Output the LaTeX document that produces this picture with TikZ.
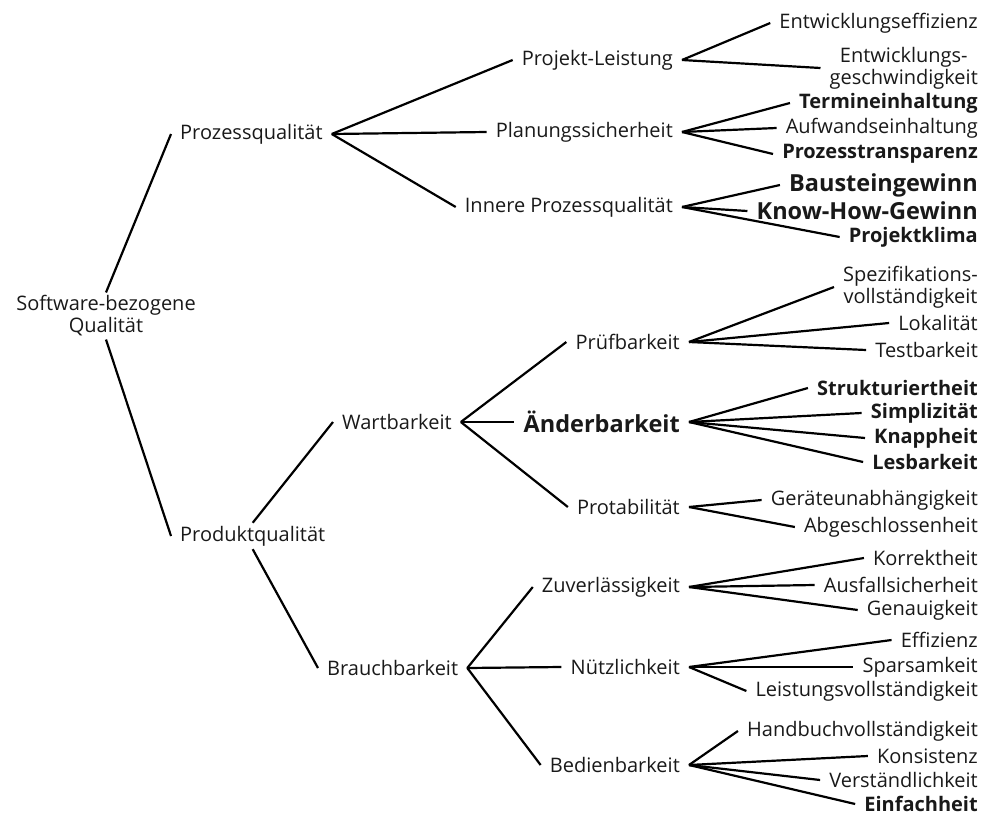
\documentclass[tikz,border=0pt]{standalone}
\usepackage{fontspec}
\setmainfont{Open Sans}
\usetikzlibrary{positioning}

\tikzset{
	lbl/.style={inner xsep=9pt, inner ysep=3pt, text=black!90, font=\fontsize{20}{22}\selectfont},
	mid/.style={lbl, anchor=east},
	leaf/.style={lbl, anchor=east, align=center},
	bleaf/.style={leaf, font=\fontsize{20}{22}\selectfont\bfseries},
	Bleaf/.style={leaf, font=\fontsize{23.5}{22}\selectfont\bfseries},
	edge/.style={line width=2.2pt, black}
}

\begin{document}
\begin{tikzpicture}[x=1pt, y=-1pt]

	\useasboundingbox (0,0) rectangle (989,817);

	\def\ma{682};
	\def\mb{689};
	\def\rx{987};

	% root and first level
	\node[lbl, align=center] (sq) at (106,316) {Software-bezogene\\Qualität};
	\node[lbl, anchor=west] (pz) at (171,134) {Prozessqualität};
	\node[lbl, anchor=west] (pd) at (171,536) {Produktqualität};
	\draw[edge] (sq.north) -- (pz.west);
	\draw[edge] (sq.south) -- (pd.west);

	\node[lbl, anchor=west] (wb) at (333,422) {Wartbarkeit};
	\node[lbl, anchor=west] (bb) at (318,668) {Brauchbarkeit};
	\draw[edge] (pd.north) -- (wb.west);
	\draw[edge] (pd.south) -- (bb.west);

	% second level
	\foreach \y/\name/\st/\txt in {60/pl/mid/Projekt-Leistung, 132/ps/mid/Planungssicherheit, 207/ip/mid/Innere Prozessqualität} {
		\node[\st] (\name) at (\ma,\y) {\txt};
		\draw[edge] (pz.east) -- (\name.west);
	}
	\foreach \y/\name/\st/\txt in {342/pf/mid/Prüfbarkeit, 422/ab/Bleaf/Änderbarkeit, 507/pt/mid/Protabilität} {
		\node[\st] (\name) at (\mb,\y) {\txt};
		\draw[edge] (wb.east) -- (\name.west);
	}
	\foreach \y/\name/\st/\txt in {587/zv/mid/Zuverlässigkeit, 667/nl/mid/Nützlichkeit, 765/bd/mid/Bedienbarkeit} {
		\node[\st] (\name) at (\mb,\y) {\txt};
		\draw[edge] (bb.east) -- (\name.west);
	}

	% leaves
	\foreach \y/\name/\st/\txt/\up in {
		23/ee/leaf/Entwicklungseffizienz/pl,
		68/eg/leaf/{Entwicklungs-\\geschwindigkeit}/pl,
		103/te/bleaf/Termineinhaltung/ps,
		128/ae/leaf/Aufwandseinhaltung/ps,
		154/pr/bleaf/Prozesstransparenz/ps,
		185/bg/Bleaf/Bausteingewinn/ip,
		211/kh/Bleaf/Know-How-Gewinn/ip,
		237/pk/bleaf/Projektklima/ip,
		287/sv/leaf/{Spezifikations-\\vollständigkeit}/pf,
		323/lo/leaf/Lokalität/pf,
		350/tb/leaf/Testbarkeit/pf,
		388/st/bleaf/Strukturiertheit/ab,
		413/si/bleaf/Simplizität/ab,
		438/kn/bleaf/Knappheit/ab,
		462/lb/bleaf/Lesbarkeit/ab,
		500/gu/leaf/Geräteunabhängigkeit/pt,
		527/ag/leaf/Abgeschlossenheit/pt,
		558/ko/leaf/Korrektheit/zv,
		585/as/leaf/Ausfallsicherheit/zv,
		610/ge/leaf/Genauigkeit/zv,
		640/ef/leaf/Effizienz/nl,
		667/sp/leaf/Sparsamkeit/nl,
		691/lv/leaf/Leistungsvollständigkeit/nl,
		731/hv/leaf/Handbuchvollständigkeit/bd,
		756/kz/leaf/Konsistenz/bd,
		780/vs/leaf/Verständlichkeit/bd,
		804/ei/bleaf/Einfachheit/bd} {
		\node[\st] (\name) at (\rx,\y) {\txt};
		\draw[edge] (\up.east) -- (\name.west);
	}

\end{tikzpicture}
\end{document}
